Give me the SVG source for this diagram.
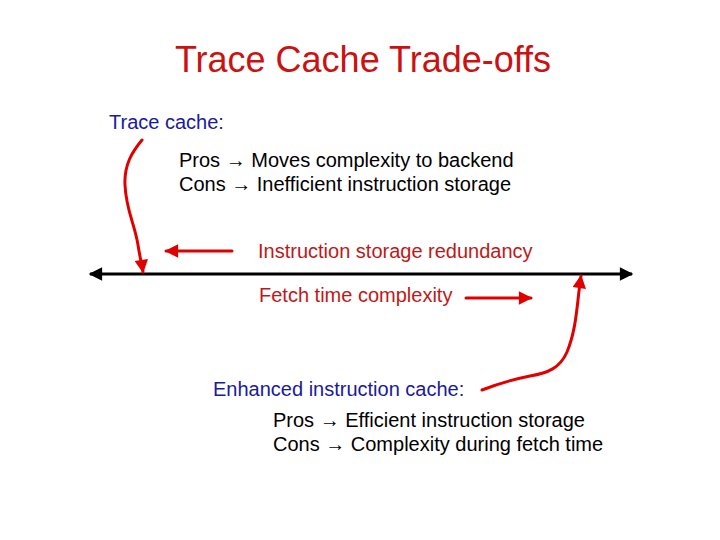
<svg xmlns="http://www.w3.org/2000/svg" width="720" height="540" viewBox="0 0 720 540">
<defs>
<style>
text{font-family:"Liberation Sans",Arial,sans-serif;font-size:20px}
.title{font-size:36px;fill:#cc1111}
.blue{fill:#1a1a9c}
.red{fill:#c01818}
.blk{fill:#000}
.rl{stroke:#e00000;stroke-width:3;fill:none;stroke-linecap:round}
.axis{stroke:#000;stroke-width:3;fill:none}
</style>
<marker id="ra" viewBox="0 0 10 10" refX="9" refY="5" markerWidth="5.5" markerHeight="4.5" markerUnits="strokeWidth" orient="auto"><path d="M0,0 L10,5 L0,10 z" fill="#e00000"/></marker>
<marker id="ba" viewBox="0 0 10 10" refX="9" refY="5" markerWidth="7" markerHeight="4.5" markerUnits="strokeWidth" orient="auto"><path d="M0,0 L10,5 L0,10 z" fill="#000"/></marker>
</defs>
<text class="title" x="363" y="72" text-anchor="middle">Trace Cache Trade-offs</text>
<g id="trace-cache">
<text class="blue" x="109" y="129">Trace cache:</text>
<text class="blk" x="179" y="167">Pros → Moves complexity to backend</text>
<text class="blk" x="179" y="191">Cons → Inefficient instruction storage</text>
</g>
<g id="axis-labels">
<text class="red" x="258" y="258">Instruction storage redundancy</text>
<text class="red" x="259" y="302">Fetch time complexity</text>
</g>
<g id="enhanced-cache">
<text class="blue" x="213" y="396">Enhanced instruction cache:</text>
<text class="blk" x="273" y="427">Pros → Efficient instruction storage</text>
<text class="blk" x="273" y="451">Cons → Complexity during fetch time</text>
</g>
<g id="connectors">
<line class="axis" x1="360" y1="274" x2="90" y2="274" marker-end="url(#ba)"/>
<line class="axis" x1="360" y1="274" x2="632" y2="274" marker-end="url(#ba)"/>
<line class="rl" x1="232" y1="251" x2="166" y2="251" marker-end="url(#ra)"/>
<line class="rl" x1="466" y1="298" x2="531" y2="298" marker-end="url(#ra)"/>
<path class="rl" d="M142,140 C132,152 124,165 125,185 C126,210 135,225 138,245 C140,258 142,265 143,272" marker-end="url(#ra)"/>
<path class="rl" d="M482,390 C500,383 515,379 530,376 C548,373 560,368 567,352 C574,335 576,318 578,300 C579,290 580,283 581,276" marker-end="url(#ra)"/>
</g>
</svg>
